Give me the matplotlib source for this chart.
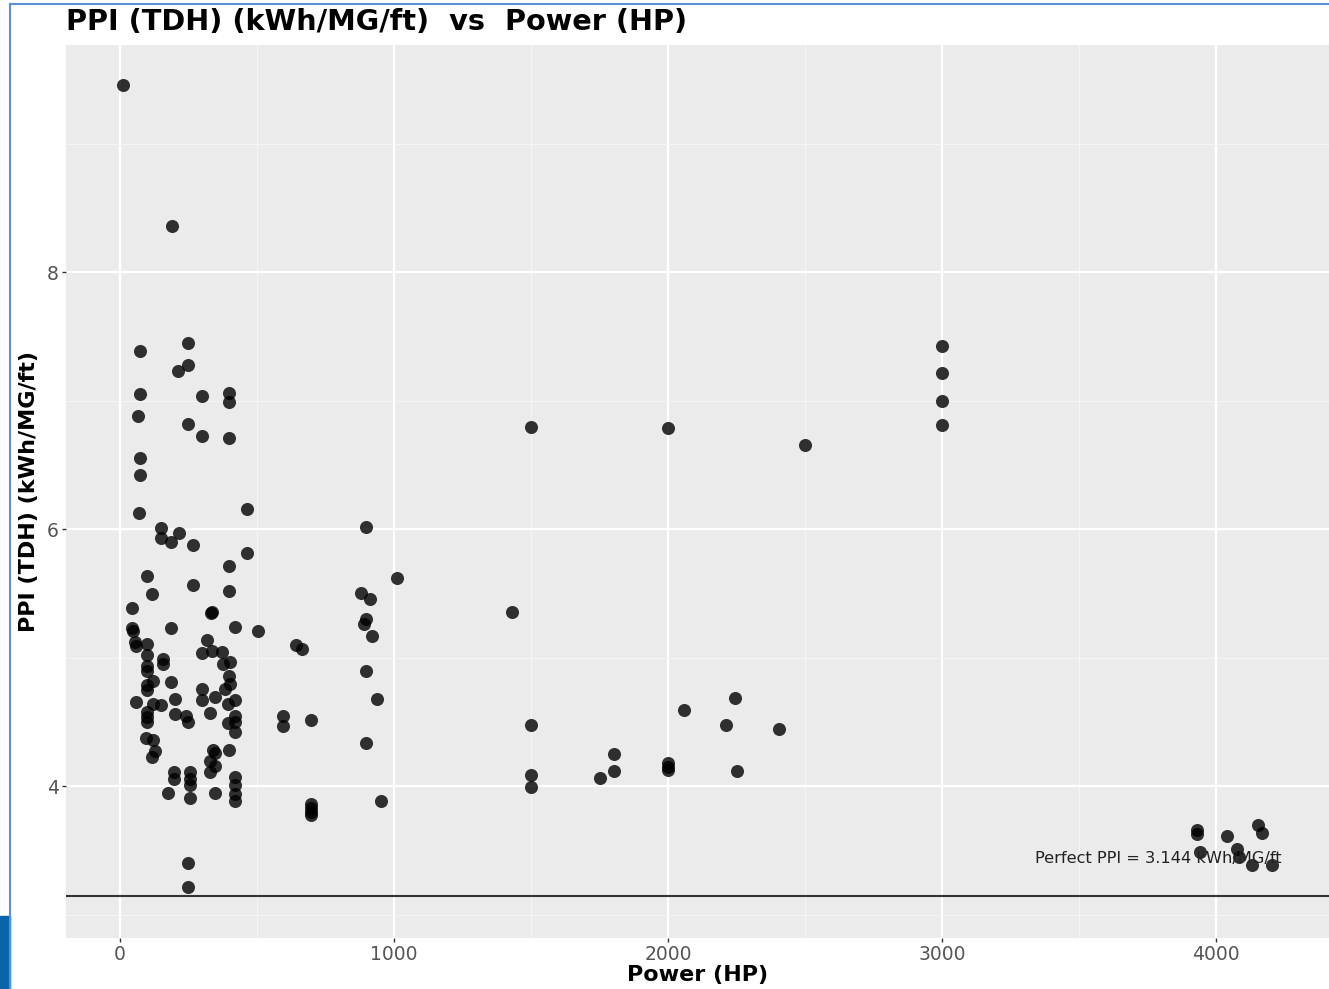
import numpy as np
import matplotlib
matplotlib.use("Agg")
import matplotlib.pyplot as plt
from matplotlib.lines import Line2D
from matplotlib.patches import Rectangle

# Data
power_hp = [11, 190, 73, 247, 247, 211, 73, 298, 398, 398, 67, 247, 298, 398, 73, 73,
            69, 463, 148, 217, 148, 186, 265, 463, 398, 100, 265, 398, 118, 45, 333, 335,
            45, 46, 186, 420, 505, 55, 58, 100, 319, 298, 335, 371, 100, 158, 158, 100,
            100, 377, 401, 399, 401, 122, 97, 186, 298, 383, 58, 100, 122, 148, 201, 100,
            100, 100, 201, 241, 249, 298, 347, 328, 395, 420, 420, 395, 420, 420, 95, 122,
            128, 116, 341, 347, 398, 328, 347, 328, 197, 197, 176, 255, 255, 255, 255, 347,
            420, 420, 420, 420, 247, 247,
            898, 1010, 880, 912, 898, 892, 921, 641, 665, 898, 937, 596, 596, 697, 898,
            697, 697, 697, 697, 951,
            3000, 3000, 3000, 3000, 1500, 2000, 2500, 1432, 1500, 1500, 1500, 1753, 1802,
            1802, 2000, 2000, 2000, 2060, 2243, 2210, 2250, 2406,
            3932, 3932, 3942, 4041, 4154, 4169, 4075, 4085, 4132, 4203]
ppi_tdh = [9.455, 8.36, 7.385, 7.45, 7.28, 7.23, 7.05, 7.035, 7.06, 6.99, 6.88, 6.82, 6.73, 6.71, 6.555, 6.42,
           6.13, 6.155, 6.01, 5.975, 5.93, 5.90, 5.88, 5.82, 5.715, 5.64, 5.57, 5.52, 5.50, 5.39, 5.35, 5.36,
           5.23, 5.21, 5.23, 5.24, 5.21, 5.12, 5.09, 5.11, 5.14, 5.04, 5.05, 5.045, 5.025, 4.99, 4.955, 4.94,
           4.90, 4.955, 4.97, 4.86, 4.80, 4.82, 4.79, 4.81, 4.76, 4.76, 4.655, 4.75, 4.64, 4.63, 4.68, 4.58,
           4.54, 4.50, 4.565, 4.545, 4.50, 4.67, 4.695, 4.57, 4.64, 4.67, 4.55, 4.49, 4.50, 4.42, 4.38, 4.36,
           4.275, 4.23, 4.28, 4.26, 4.28, 4.20, 4.16, 4.11, 4.11, 4.06, 3.95, 4.11, 4.06, 4.01, 3.91, 3.95,
           4.07, 4.01, 3.94, 3.89, 3.40, 3.22,
           6.02, 5.62, 5.505, 5.46, 5.305, 5.26, 5.17, 5.10, 5.07, 4.90, 4.68, 4.55, 4.47, 4.52, 4.34,
           3.86, 3.83, 3.80, 3.78, 3.89,
           7.43, 7.22, 7.00, 6.81, 6.80, 6.79, 6.66, 5.36, 4.475, 4.09, 3.995, 4.065, 4.25,
           4.12, 4.18, 4.15, 4.125, 4.595, 4.69, 4.475, 4.12, 4.45,
           3.66, 3.63, 3.49, 3.61, 3.70, 3.64, 3.515, 3.45, 3.39, 3.39]
perfect_ppi = 3.144
x_ticks = [0, 1000, 2000, 3000, 4000]
y_ticks = [4, 6, 8]

fig = plt.figure(figsize=(13.29, 9.89), dpi=100)
ax = fig.add_axes([66/1329, 1 - 938/989, 1 - 66/1329, (938 - 45)/989])

# ggplot-like panel
ax.set_facecolor('#EBEBEB')
for s in ax.spines.values():
    s.set_visible(False)
ax.set_xlim(-197, 4412)
ax.set_ylim(2.82, 9.77)
ax.set_xticks(x_ticks)
ax.set_yticks(y_ticks)
ax.set_xticks([500, 1500, 2500, 3500], minor=True)
ax.set_yticks([3, 5, 7, 9], minor=True)
ax.grid(which='major', color='white', linewidth=1.6)
ax.grid(which='minor', color='#F5F5F5', linewidth=0.8)
ax.set_axisbelow(True)
ax.tick_params(which='major', length=3, width=1, color='#333333', labelcolor='#555555',
               labelsize=13.5, pad=2)
ax.tick_params(which='minor', length=0)

ax.plot(power_hp, ppi_tdh, 'o', color='black', alpha=0.8, markersize=9.4, markeredgewidth=0)
ax.axhline(perfect_ppi, color='#333333', linewidth=1.5)
ax.text(3788, 3.44, "Perfect PPI = %.3f kWh/MG/ft" % perfect_ppi, ha='center', va='center',
        fontsize=11.7, color='#222222')

ax.set_xlabel("Power (HP)", fontsize=16, fontweight='bold', labelpad=1)
ax.set_ylabel("PPI (TDH) (kWh/MG/ft)", fontsize=16, fontweight='bold', labelpad=6)
fig.text(66/1329, 1 - 22/989, "PPI (TDH) (kWh/MG/ft)  vs  Power (HP)", fontsize=20.7,
         fontweight='bold', ha='left', va='center')

# blue frame bits from the slide around the chart
fig.add_artist(Line2D([10/1329, 10/1329], [0, 1 - 4/989], color='#5B8FD6', linewidth=1.5))
fig.add_artist(Line2D([10/1329, 1], [1 - 4/989, 1 - 4/989], color='#5B8FD6', linewidth=1.5))
fig.add_artist(Rectangle((0, 0), 10/1329, (989 - 916)/989, color='#0A64A8'))

plt.savefig("out.png", dpi=100)
